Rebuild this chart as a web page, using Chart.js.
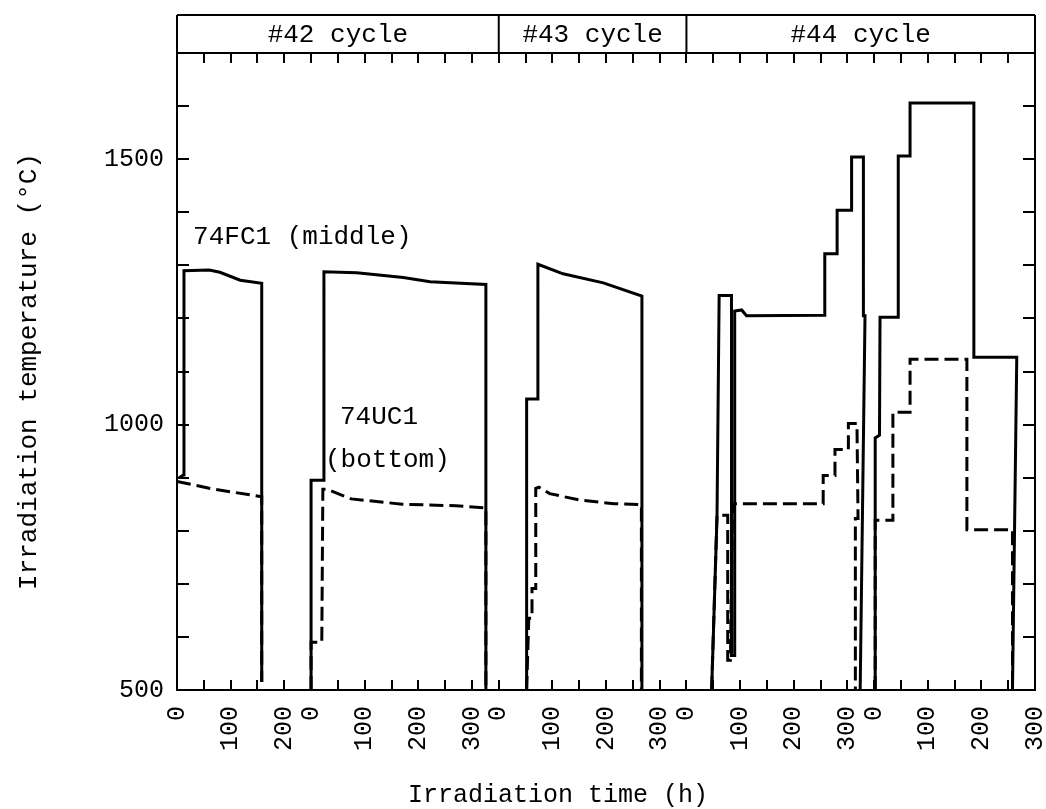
<!DOCTYPE html>
<html>
<head>
<meta charset="utf-8">
<script src="https://cdn.jsdelivr.net/npm/chart.js@4.4.0/dist/chart.umd.min.js"></script>
<style>
html, body { margin: 0; padding: 0; background: #fff; }
#wrap { width: 1046px; height: 809px; }
</style>
</head>
<body>
<div id="wrap"><canvas id="c" width="1046" height="809"></canvas></div>
<script>
// ---------------- data ----------------
// irradiation cycles (global time axis, hours)
const cycleNames  = ['#42 cycle', '#43 cycle', '#44 cycle'];
const cycleStarts = [0, 600, 950];
const cycleEnds   = [600, 950, 1600];

// x-axis tick marks (global hours) and the labels shown (time within each run)
const xTickValues  = [0,50,100,150,200,250,300,350,400,450,500,550,600,650,700,750,800,850,900,950,1000,1050,1100,1150,1200,1250,1300,1350,1400,1450,1500,1550,1600];
const xLabelValues = [0, 100, 200, 250, 350, 450, 550, 600, 700, 800, 900, 950, 1050, 1150, 1250, 1300, 1400, 1500, 1600];
const xLabelTexts  = ['0','100','200','0','100','200','300','0','100','200','300','0','100','200','300','0','100','200','300'];

// y-axis ticks
const yTickValues  = [500,600,700,800,900,1000,1100,1200,1300,1400,1500,1600,1700];
const yLabelValues = [500, 1000, 1500];

// 74FC1 (middle) – solid line; null = gap between runs
const fc1Time = [4, 12, 13, 60, 80, 118, 158, 158, 160,
  250, 250, 274, 274, 335, 422, 472, 576, 576, 580,
  652, 652, 673, 673, 720, 795, 867, 867, 870,
  997, 1007, 1011, 1034, 1034, 1040, 1040, 1053, 1062, 1208, 1208, 1231, 1231, 1258, 1258, 1280, 1280, 1283, 1274, 1290,
  1302, 1302, 1310, 1311, 1345, 1345, 1367, 1367, 1486, 1486, 1566, 1558];
const fc1Temp = [900, 905, 1290, 1291, 1287, 1272, 1266, 515, null,
  500, 895, 895, 1288, 1286, 1277, 1269, 1264, 500, null,
  500, 1048, 1048, 1302, 1284, 1267, 1242, 500, null,
  500, 826, 1243, 1243, 565, 565, 1214, 1216, 1205, 1206, 1322, 1322, 1404, 1404, 1504, 1504, 1205, 1205, 500, null,
  500, 975, 980, 1202, 1202, 1506, 1506, 1606, 1606, 1127, 1127, 500];

// 74UC1 (bottom) – dashed line
const uc1Time = [0, 60, 158, 158, 160,
  250, 250, 270, 272, 280, 300, 325, 420, 520, 576, 576, 580,
  652, 656, 662, 662, 669, 669, 675, 695, 750, 815, 866, 866, 870,
  997, 1007, 1027, 1027, 1032, 1036, 1205, 1205, 1227, 1227, 1252, 1252, 1268, 1270, 1265, 1265, 1290,
  1302, 1302, 1335, 1335, 1367, 1367, 1473, 1473, 1558, 1558];
const uc1Temp = [893, 880, 864, 515, null,
  500, 590, 590, 878, 878, 870, 860, 850, 847, 843, 500, null,
  500, 635, 635, 691, 691, 880, 882, 870, 858, 851, 849, 500, null,
  500, 829, 829, 556, 556, 851, 851, 904, 904, 953, 953, 1002, 1002, 823, 823, 500, null,
  500, 820, 820, 1023, 1023, 1123, 1123, 802, 802, 500];

// ---------------- chart ----------------
const FONT = '"Liberation Mono", "Courier New", monospace';
Chart.defaults.font.family = FONT;
Chart.defaults.color = '#000';

function toPoints(xs, ys) { return xs.map((x, i) => ({ x: x, y: ys[i] })); }

const decor = {
  id: 'decor',
  beforeDraw(chart) {
    const ctx = chart.ctx;
    ctx.save();
    ctx.fillStyle = '#fff';
    ctx.fillRect(0, 0, chart.width, chart.height);
    ctx.restore();
  },
  afterDraw(chart, args, opts) {
    const ctx = chart.ctx;
    const xs = chart.scales.x;
    const ys = chart.scales.y;
    const ca = chart.chartArea;
    const top = opts.headerTop;
    ctx.save();
    ctx.strokeStyle = '#000';
    ctx.lineWidth = 2;
    ctx.beginPath();
    ctx.moveTo(ca.left, top); ctx.lineTo(ca.right, top);
    ctx.moveTo(ca.left, top); ctx.lineTo(ca.left, ca.top);
    ctx.moveTo(ca.right, top); ctx.lineTo(ca.right, ca.top);
    for (let i = 1; i < cycleStarts.length; i++) {
      const px = xs.getPixelForValue(cycleStarts[i]);
      ctx.moveTo(px, top); ctx.lineTo(px, ca.top);
    }
    ctx.stroke();
    ctx.fillStyle = '#000';
    ctx.font = opts.headerFont + 'px ' + FONT;
    ctx.textAlign = 'center';
    ctx.textBaseline = 'middle';
    for (let i = 0; i < cycleNames.length; i++) {
      const cx = (xs.getPixelForValue(cycleStarts[i]) + xs.getPixelForValue(cycleEnds[i])) / 2;
      ctx.fillText(cycleNames[i], cx, (top + ca.top) / 2 + 1);
    }
    // x-axis title
    ctx.font = opts.xTitle.size + 'px ' + FONT;
    ctx.fillText(opts.xTitle.text, opts.xTitle.cx, opts.xTitle.cy);
    // curve labels
    ctx.font = opts.noteFont + 'px ' + FONT;
    ctx.textAlign = 'left';
    opts.notes.forEach(n => {
      ctx.fillText(n.text, xs.getPixelForValue(n.x), ys.getPixelForValue(n.y));
    });
    ctx.restore();
  }
};

const gridCommon = { drawOnChartArea: false, color: '#000', lineWidth: 2 };
const borderCommon = { display: true, color: '#000', width: 2 };
function noPad(s) { s.paddingLeft = 0; s.paddingRight = 0; s.paddingTop = 0; s.paddingBottom = 0; }

new Chart(document.getElementById('c'), {
  type: 'line',
  data: {
    datasets: [
      { label: '74FC1 (middle)', data: toPoints(fc1Time, fc1Temp), borderColor: '#000', borderWidth: 3,
        pointRadius: 0, fill: false, tension: 0, spanGaps: false },
      { label: '74UC1 (bottom)', data: toPoints(uc1Time, uc1Temp), borderColor: '#000', borderWidth: 3,
        borderDash: [14, 6], pointRadius: 0, fill: false, tension: 0, spanGaps: false }
    ]
  },
  options: {
    responsive: false,
    animation: false,
    layout: { padding: { top: 15, right: 11, bottom: 0, left: 0 } },
    plugins: {
      legend: { display: false },
      tooltip: { enabled: false },
      decor: {
        headerTop: 15,
        headerFont: 26,
        noteFont: 26,
        xTitle: { text: 'Irradiation time (h)', size: 25, cx: 558, cy: 795 },
        notes: [
          { text: '74FC1 (middle)', x: 30, y: 1353 },
          { text: '74UC1', x: 304, y: 1014 },
          { text: '(bottom)', x: 276, y: 933 }
        ]
      }
    },
    scales: {
      x: {
        type: 'linear', position: 'bottom', min: 0, max: 1600,
        afterBuildTicks: s => { s.ticks = xTickValues.map(v => ({ value: v })); },
        afterFit: s => { s.height = 119; noPad(s); },
        grid: Object.assign({ tickLength: -10 }, gridCommon),
        border: borderCommon,
        ticks: {
          autoSkip: false, minRotation: 90, maxRotation: 90, padding: 26,
          font: { size: 25 }, color: '#000',
          callback: v => { const i = xLabelValues.indexOf(v); return i >= 0 ? xLabelTexts[i] : ''; }
        },
        title: { display: false }
      },
      xTop: {
        type: 'linear', position: 'top', min: 0, max: 1600,
        afterBuildTicks: s => { s.ticks = xTickValues.map(v => ({ value: v })); },
        afterFit: s => { s.height = 38; noPad(s); },
        grid: Object.assign({ tickLength: -10 }, gridCommon),
        border: borderCommon,
        ticks: { display: false }
      },
      y: {
        type: 'linear', position: 'left', min: 500, max: 1700,
        afterBuildTicks: s => { s.ticks = yTickValues.map(v => ({ value: v })); },
        afterFit: s => { s.width = 177; noPad(s); },
        grid: Object.assign({ tickLength: -12 }, gridCommon),
        border: borderCommon,
        ticks: {
          padding: 25, font: { size: 25 }, color: '#000',
          callback: v => yLabelValues.includes(v) ? String(v) : ''
        },
        title: { display: true, text: 'Irradiation temperature (°C)', font: { size: 26 }, color: '#000', padding: { top: 14, bottom: 0 } }
      },
      yRight: {
        type: 'linear', position: 'right', min: 500, max: 1700,
        afterBuildTicks: s => { s.ticks = yTickValues.map(v => ({ value: v })); },
        afterFit: s => { s.width = 0; noPad(s); },
        grid: Object.assign({ tickLength: -12 }, gridCommon),
        border: borderCommon,
        ticks: { display: false }
      }
    }
  },
  plugins: [decor]
});
</script>
</body>
</html>
